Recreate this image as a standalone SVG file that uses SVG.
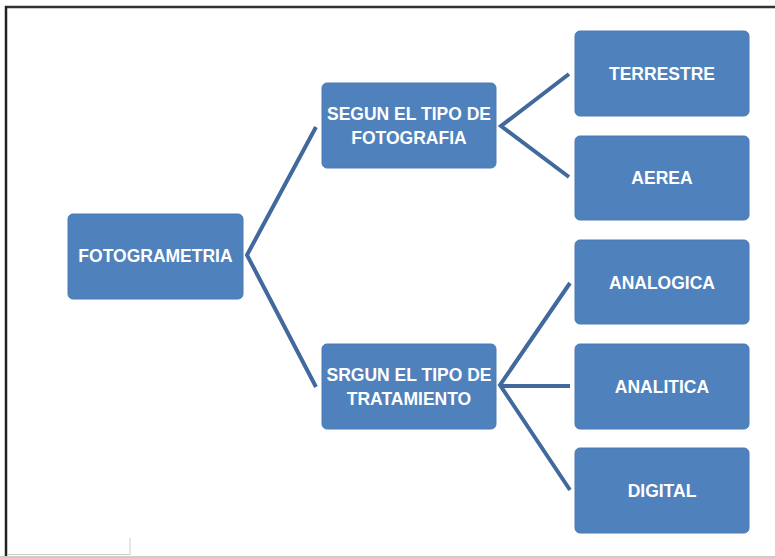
<svg xmlns="http://www.w3.org/2000/svg" width="775" height="558" viewBox="0 0 775 558">
<style>
.box{fill:#4f81bd;stroke:#4a7ab5;stroke-width:1}
.t{font-family:"Liberation Sans",Arial,sans-serif;font-weight:bold;font-size:17.5px;fill:#ffffff;text-anchor:middle}
.c{fill:none;stroke:#41699d;stroke-width:4;stroke-linejoin:miter}
</style>
<rect width="775" height="558" fill="#ffffff"/>
<g id="frame">
<line x1="5" y1="7" x2="775" y2="7" stroke="#333333" stroke-width="2.5"/>
<line x1="6" y1="6" x2="6" y2="556" stroke="#222222" stroke-width="2.5"/>
<line x1="0" y1="557" x2="775" y2="557" stroke="#bbbbbb" stroke-width="1.5"/>
<line x1="8" y1="554.5" x2="130" y2="554.5" stroke="#cccccc" stroke-width="1"/>
<line x1="130" y1="538" x2="130" y2="555" stroke="#cccccc" stroke-width="1"/>
</g>
<g id="connectors">
<polyline class="c" points="316,127 247,255 316,387"/>
<polyline class="c" points="569,74 501,126 569,177"/>
<polyline class="c" points="570,283 500,385 570,490"/>
<line class="c" x1="500" y1="386" x2="570" y2="386"/>
</g>
<g id="fotogrametria">
<rect class="box" x="68" y="214" width="175" height="85" rx="5"/>
<text class="t" x="155.5" y="262">FOTOGRAMETRIA</text>
</g>
<g id="segun-fotografia">
<rect class="box" x="322" y="83" width="174" height="85" rx="5"/>
<text class="t" x="409" y="120">SEGUN EL TIPO DE</text>
<text class="t" x="409" y="144">FOTOGRAFIA</text>
</g>
<g id="srgun-tratamiento">
<rect class="box" x="322" y="344" width="174" height="85" rx="5"/>
<text class="t" x="409" y="381">SRGUN EL TIPO DE</text>
<text class="t" x="409" y="405">TRATAMIENTO</text>
</g>
<g id="terrestre">
<rect class="box" x="575" y="31" width="174" height="85" rx="5"/>
<text class="t" x="662" y="80">TERRESTRE</text>
</g>
<g id="aerea">
<rect class="box" x="575" y="136" width="174" height="84" rx="5"/>
<text class="t" x="662" y="184">AEREA</text>
</g>
<g id="analogica">
<rect class="box" x="575" y="240" width="174" height="84" rx="5"/>
<text class="t" x="662" y="289">ANALOGICA</text>
</g>
<g id="analitica">
<rect class="box" x="575" y="344" width="174" height="85" rx="5"/>
<text class="t" x="662" y="393">ANALITICA</text>
</g>
<g id="digital">
<rect class="box" x="575" y="448" width="174" height="85" rx="5"/>
<text class="t" x="662" y="497">DIGITAL</text>
</g>
</svg>
